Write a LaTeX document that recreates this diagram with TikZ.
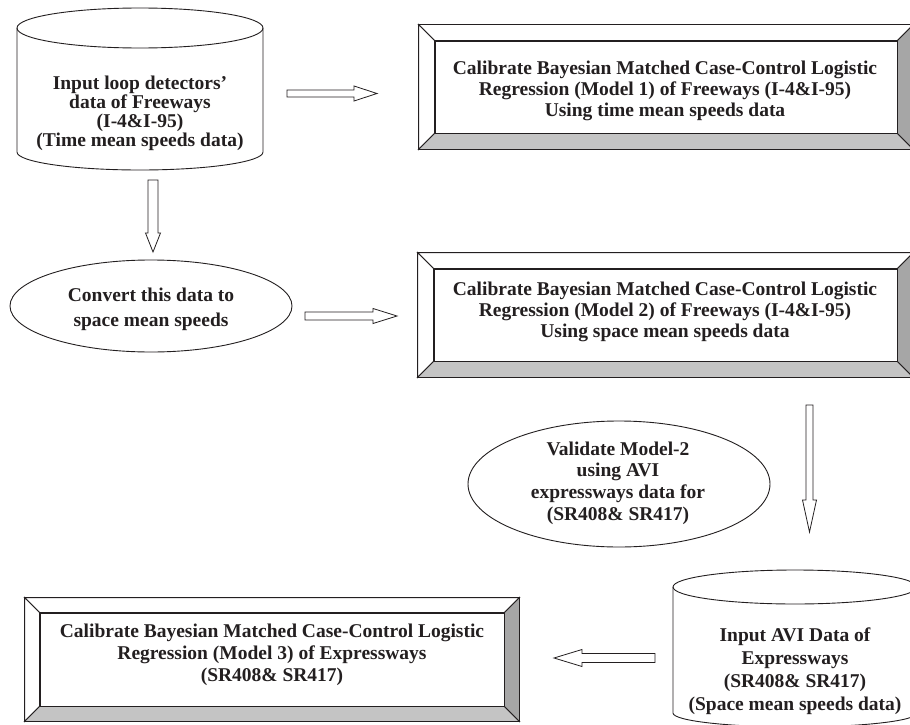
\documentclass[tikz,border=0pt]{standalone}
\usepackage{fontspec}
\setmainfont{Liberation Serif}
\usetikzlibrary{calc,shapes.geometric}
\definecolor{ink}{HTML}{231F20}
\definecolor{bevelB}{HTML}{C4C4C4}
\definecolor{bevelR}{HTML}{A6A6A6}
\tikzset{
  lbl/.style={font=\bfseries\fontsize{19.5}{21}\selectfont, align=center, inner sep=0pt, text=ink},
  innerbox/.style={draw=ink, rectangle, inner sep=0pt, line width=0.9pt},
  oval/.style={draw=ink, ellipse, inner sep=0pt, line width=0.9pt},
  arrowline/.style={draw=ink, fill=white, line width=0.8pt, line join=miter},
  shapeline/.style={draw=ink, line width=0.9pt},
  bevelline/.style={draw=ink, line width=0.9pt, line join=miter},
}
\newcommand{\bevelframe}[3]{%
  \coordinate (#1-onw) at ($(#1.north west)+(-#2,-#3)$);
  \coordinate (#1-one) at ($(#1.north east)+(#2,-#3)$);
  \coordinate (#1-osw) at ($(#1.south west)+(-#2,#3)$);
  \coordinate (#1-ose) at ($(#1.south east)+(#2,#3)$);
  \filldraw[bevelline, fill=white] (#1-onw) -- (#1-one) -- (#1.north east) -- (#1.north west) -- cycle;
  \filldraw[bevelline, fill=white] (#1-onw) -- (#1.north west) -- (#1.south west) -- (#1-osw) -- cycle;
  \filldraw[bevelline, fill=bevelB] (#1-osw) -- (#1.south west) -- (#1.south east) -- (#1-ose) -- cycle;
  \filldraw[bevelline, fill=bevelR] (#1-one) -- (#1-ose) -- (#1.south east) -- (#1.north east) -- cycle;
}
\newcommand{\hollowarrow}[6]{%
  \draw[arrowline, shift={(#1)}, rotate=#2] (0,-#4) -- ({#3-#6},-#4) -- ({#3-#6},-#5) -- (#3,0) -- ({#3-#6},#5) -- ({#3-#6},#4) -- (0,#4) -- cycle;}
\begin{document}
\begin{tikzpicture}[x=1pt,y=-1pt]
\useasboundingbox (0,0) rectangle (910,725);
\clip (0,0) rectangle (910,725);
\fill[white] (0,0) rectangle (910,725);

% cylinder 1
\draw[shapeline, fill=white] (17,28) -- (17,152) arc[start angle=180, end angle=0, x radius=123, y radius=18] -- (263,28);
\draw[shapeline] (140,28) ellipse [x radius=123, y radius=20];
\node[lbl, font=\bfseries\fontsize{19.5}{19}\selectfont] (cyl1) at (140,113) {Input loop detectors’\\data of Freeways\\(I-4\&I-95)\\(Time mean speeds data)};

% box 1
\node[innerbox, minimum width=462, minimum height=92] (b1) at (666,87) {};
\bevelframe{b1}{16}{16}
\node[lbl] (t1) at (665,91) {Calibrate Bayesian Matched Case-Control Logistic\\Regression (Model 1) of Freeways (I-4\&I-95)\\Using time mean speeds data};

% ellipse 1
\node[oval, minimum width=282, minimum height=92] (e1) at (151,306) {};
\node[lbl, font=\bfseries\fontsize{19.5}{25}\selectfont] (te1) at (151,309.5) {Convert this data to\\space mean speeds};

% box 2
\node[innerbox, minimum width=463, minimum height=92] (b2) at (665.5,315) {};
\bevelframe{b2}{16}{16}
\node[lbl] (t2) at (665,311.5) {Calibrate Bayesian Matched Case-Control Logistic\\Regression (Model 2) of Freeways (I-4\&I-95)\\Using space mean speeds data};

% ellipse 2
\node[oval, minimum width=302, minimum height=126] (e2) at (619,484) {};
\node[lbl, font=\bfseries\fontsize{19.5}{21.7}\selectfont] (te2) at (618,483) {Validate Model-2\\using AVI\\expressways data for\\(SR408\& SR417)};

% cylinder 2
\draw[shapeline, fill=white] (673,587) -- (673,713) arc[start angle=180, end angle=0, x radius=122, y radius=14] -- (917,587);
\draw[shapeline] (795,587) ellipse [x radius=122, y radius=17];
\node[lbl, font=\bfseries\fontsize{19.5}{23}\selectfont] (cyl2) at (795,671.5) {Input AVI Data of\\Expressways\\(SR408\& SR417)\\(Space mean speeds data)};

% box 3
\node[innerbox, minimum width=464, minimum height=93] (b3) at (272,659.5) {};
\bevelframe{b3}{15}{15}
\node[lbl, font=\bfseries\fontsize{19.5}{22}\selectfont] (t3) at (272,655) {Calibrate Bayesian Matched Case-Control Logistic\\Regression (Model 3) of Expressways\\(SR408\& SR417)};

% hollow arrows (connectors)
\coordinate (a1s) at (287,93.5);
\coordinate (a2s) at (153,180);
\coordinate (a3s) at (305,316);
\coordinate (a4s) at (809.5,405);
\coordinate (a5s) at (655,658);
\hollowarrow{a1s}{0}{90}{3.5}{7.5}{23}
\hollowarrow{a2s}{-90}{72}{5}{7.5}{19}
\hollowarrow{a3s}{0}{92}{4}{7.5}{24}
\hollowarrow{a4s}{-90}{127}{3.5}{7}{32}
\hollowarrow{a5s}{180}{101}{4.5}{8.5}{28}
\end{tikzpicture}
\end{document}
